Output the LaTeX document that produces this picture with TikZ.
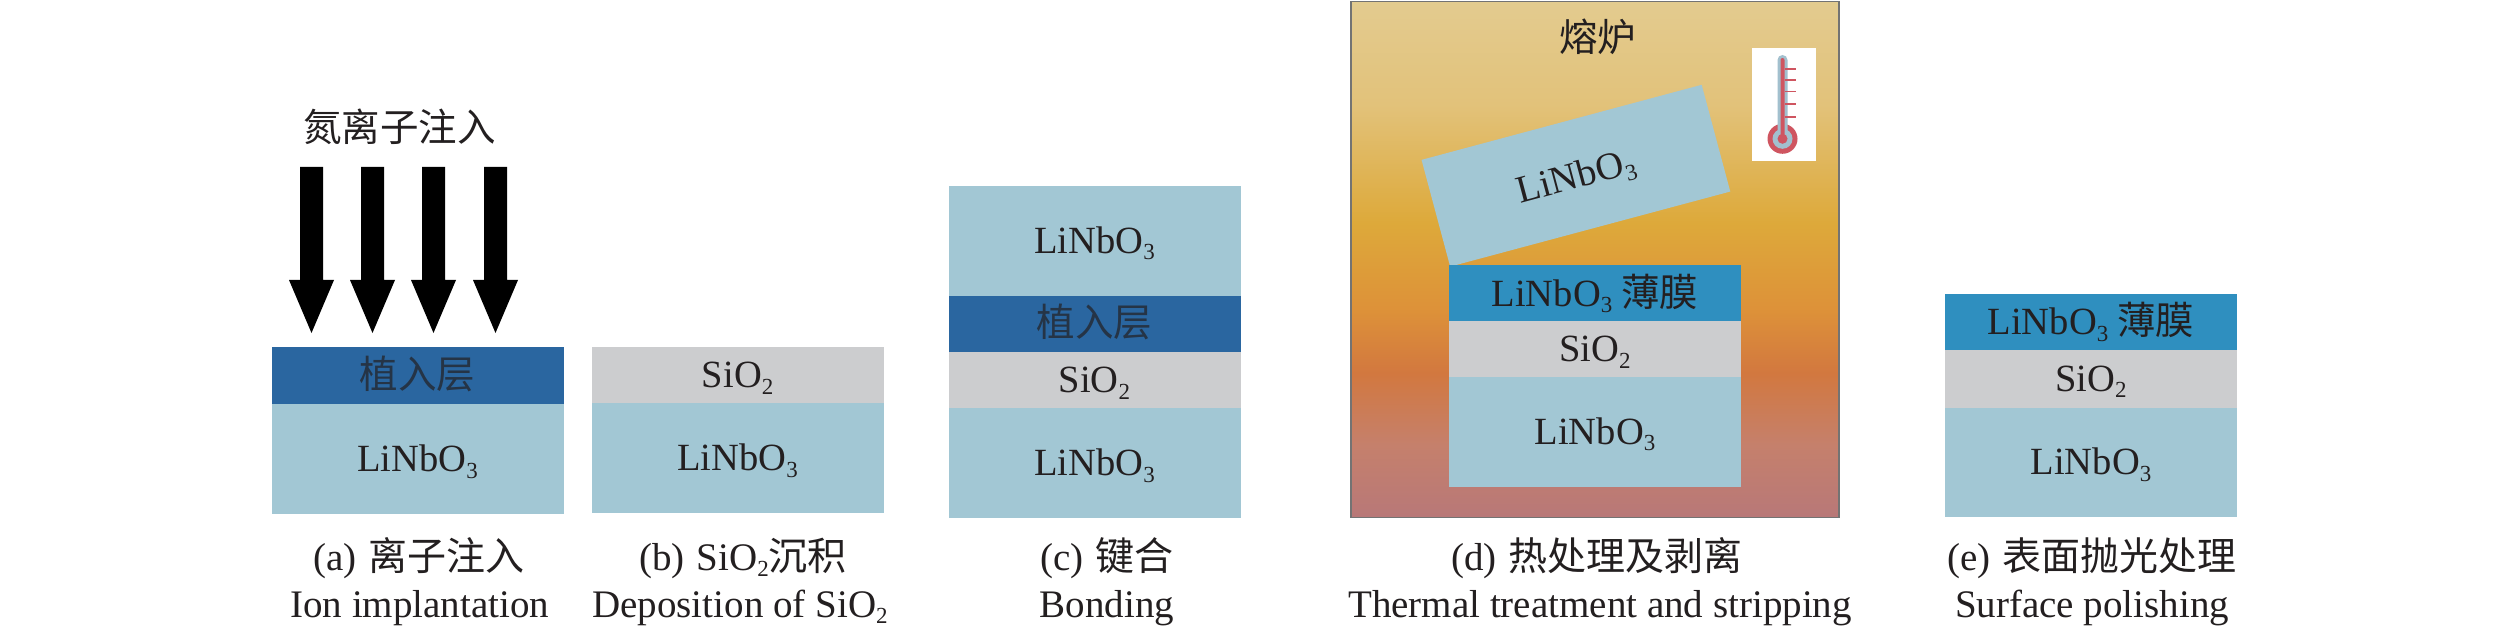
\documentclass[tikz,border=0pt]{standalone}
\usepackage{fontspec}
\setmainfont{Liberation Serif}
\newfontfamily\cjkfam{Noto Sans CJK SC}
\newcommand{\zh}[1]{{\cjkfam #1}}
\newcommand{\lowsub}[1]{\raisebox{-6.5pt}{\fontsize{23}{23}\selectfont #1}}
\newcommand{\LN}{LiNbO\lowsub{3}}
\newcommand{\SO}{SiO\lowsub{2}}
\definecolor{lnbc}{HTML}{A2C7D4}
\definecolor{implc}{HTML}{2A66A0}
\definecolor{filmc}{HTML}{2F8FBF}
\definecolor{sioc}{HTML}{CCCDCF}
\definecolor{inkc}{HTML}{231F20}
\definecolor{thermr}{HTML}{CF5560}
\definecolor{thermb}{HTML}{A2C0CE}
\definecolor{fa}{HTML}{E3CB8F}
\definecolor{fb}{HTML}{E2C27A}
\definecolor{fc}{HTML}{DDA93A}
\definecolor{fd}{HTML}{DD9139}
\definecolor{fe}{HTML}{D2783F}
\definecolor{ff}{HTML}{C5806C}
\definecolor{fg}{HTML}{B87878}
\pgfdeclareverticalshading{furnshade}{100bp}{color(0bp)=(fg); color(25bp)=(fg); color(32bp)=(ff); color(39bp)=(fe); color(45bp)=(fd); color(53.5bp)=(fc); color(65bp)=(fb); color(75bp)=(fa); color(100bp)=(fa)}
\tikzset{
  every node/.style={text=inkc,font=\fontsize{38.5}{42}\selectfont,inner sep=0pt,outer sep=0pt},
  layer/.style={minimum width=292pt,text height=25pt,text depth=0pt},
  lnb/.style={layer,fill=lnbc},
  impl/.style={layer,fill=implc,text=inkc!70!implc},
  film/.style={layer,fill=filmc},
  sio/.style={layer,fill=sioc},
  captext/.style={anchor=base,font=\fontsize{39}{42}\selectfont},
  ion/.pic={\fill[black] (-11.5,0) -- (11.5,0) -- (11.5,113) -- (22.5,113) -- (0,166) -- (-22.5,113) -- (-11.5,113) -- cycle;}
}
\begin{document}
\begin{tikzpicture}[x=1pt,y=-1pt]
\useasboundingbox[fill=white] (0,0) rectangle (2519,636);
% (a)
\pic at (311.5,167) {ion};
\pic at (372.5,167) {ion};
\pic at (433.5,167) {ion};
\pic at (495.5,167) {ion};
\node (iontitle) at (399.5,127) {\zh{氮离子注入}};
\node[impl,minimum height=57pt] (aimpl) at (417.5,375.5) {\zh{植入层}};
\node[lnb,minimum height=110pt] (alnb) at (417.5,459) {\LN};
\node[captext] (acap) at (419,570) {(a)\hspace{12pt}\zh{离子注入}};
\node[captext] (aen) at (419.8,617) {Ion implantation};
% (b)
\node[sio,minimum height=56pt] (bsio) at (737.6,375) {\SO};
\node[lnb,minimum height=110pt] (blnb) at (737.6,458) {\LN};
\node[captext] (bcap) at (743,570) {(b)\hspace{12pt}\SO\zh{沉积}};
\node[captext] (ben) at (740,617) {Deposition of \SO};
% (c)
\node[lnb,minimum height=110pt] (clnb) at (1094.5,241) {\LN};
\node[impl,minimum height=56pt] (cimpl) at (1094.5,324) {\zh{植入层}};
\node[sio,minimum height=56pt] (csio) at (1094.5,380) {\SO};
\node[lnb,minimum height=110pt] (clnbb) at (1094.5,463) {\LN};
\node[captext] (ccap) at (1107,570) {(c)\hspace{12pt}\zh{键合}};
\node[captext] (cen) at (1107,617) {Bonding};
% (d)
\node[shade,shading=furnshade,draw=black!55,line width=1.5pt,minimum width=488pt,minimum height=516pt] (furn) at (1595,259.3) {};
\node (furnt) at (1597.6,37) {\zh{熔炉}};
\node[fill=white,minimum width=64pt,minimum height=112.5pt] (thermbox) at (1784,104.3) {};
\fill[thermr] (1782.5,138.8) circle[radius=15];
\fill[thermb] (1782.5,138.8) circle[radius=10];
\fill[thermb,rounded corners=5pt] (1777.5,55) rectangle (1787.5,140);
\fill[thermr,rounded corners=2pt] (1780.5,58) rectangle (1784.5,140);
\fill[thermr] (1782.5,138.8) circle[radius=5];
\foreach \ty in {69,80,91.6,104,117} \draw[thermr,line width=1.6pt] (1784.5,\ty) -- (1796,\ty);
\node[lnb,minimum width=290pt,minimum height=110.5pt,rotate=15] (dtilt) at (1575.9,175.7) {\LN};
\node[film,minimum height=56pt] (dfilm) at (1595,293.5) {\LN\hspace{9pt}\zh{薄膜}};
\node[sio,minimum height=56pt] (dsio) at (1595,349.3) {\SO};
\node[lnb,minimum height=109.6pt] (dlnb) at (1595,431.8) {\LN};
\node[captext] (dcap) at (1597,570) {(d)\hspace{12pt}\zh{热处理及剥离}};
\node[captext] (den) at (1600,617) {Thermal treatment and stripping};
% (e)
\node[film,minimum height=56pt] (efilm) at (2091,322) {\LN\hspace{9pt}\zh{薄膜}};
\node[sio,minimum height=57.7pt] (esio) at (2091,378.9) {\SO};
\node[lnb,minimum height=109.3pt] (elnb) at (2091,462.3) {\LN};
\node[captext] (ecap) at (2092,570) {(e)\hspace{12pt}\zh{表面抛光处理}};
\node[captext] (een) at (2092,617) {Surface polishing};
\end{tikzpicture}
\end{document}
